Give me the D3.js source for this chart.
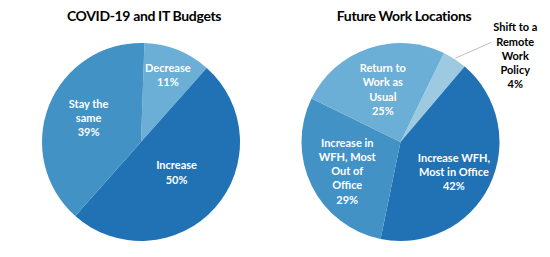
<!DOCTYPE html>
<html>
<head>
<meta charset="utf-8">
<script src="https://cdn.jsdelivr.net/npm/d3@7"></script>
<style>
  html, body { margin: 0; padding: 0; background: #fff; }
  svg { display: block; }
</style>
</head>
<body>
<svg id="chart" width="550" height="257"></svg>
<script>
// ---- Data ----
const budgetCategories = ["Decrease", "Increase", "Stay the same"];
const budgetLabels = [["Decrease", "11%"], ["Increase", "50%"], ["Stay the", "same", "39%"]];
const budgetValues = [11, 50, 39];

const workCategories = ["Shift to a Remote Work Policy", "Increase WFH, Most in Office", "Increase in WFH, Most Out of Office", "Return to Work as Usual"];
const workLabels = [["Shift to a", "Remote", "Work", "Policy", "4%"], ["Increase WFH,", "Most in Office", "42%"], ["Increase in", "WFH, Most", "Out of", "Office", "29%"], ["Return to", "Work as", "Usual", "25%"]];
const workValues = [4, 42, 29, 25];

const titles = ["COVID-19 and IT Budgets", "Future Work Locations"];

// ---- Layout / style ----
const svg = d3.select("#chart");
const deg = Math.PI / 180;
const fontFamily = "Lato, 'Open Sans', sans-serif";

const charts = [
  {
    title: titles[0], titleX: 144, cx: 141, cy: 142, r: 99, startDeg: 2,
    cats: budgetCategories, labels: budgetLabels, values: budgetValues,
    colors: ["#6baed6", "#2171b5", "#4292c6"],
    labelR: [0.73, 0.48, 0.57], labelShift: [0, -1, -3], outside: [false, false, false]
  },
  {
    title: titles[1], titleX: 404, cx: 400.5, cy: 142, r: 99, startDeg: 26,
    cats: workCategories, labels: workLabels, values: workValues,
    colors: ["#9ecae1", "#2171b5", "#4292c6", "#6baed6"],
    labelR: [1, 0.6, 0.6, 0.55], labelShift: [0, 4, 3, -1], outside: [true, false, false, false]
  }
];

const lineH = 14.2;

charts.forEach(c => {
  const g = svg.append("g");
  g.append("text")
    .attr("x", c.titleX).attr("y", 21)
    .attr("text-anchor", "middle")
    .attr("font-family", fontFamily)
    .attr("font-weight", "bold")
    .attr("font-size", 14)
    .attr("letter-spacing", -0.35)
    .attr("fill", "#000")
    .text(c.title);

  const pie = d3.pie().sort(null).value(d => d)
    .startAngle(c.startDeg * deg).endAngle(c.startDeg * deg + 2 * Math.PI);
  const arcs = pie(c.values);
  const arc = d3.arc().innerRadius(0).outerRadius(c.r);

  const pg = g.append("g").attr("transform", `translate(${c.cx},${c.cy})`);
  pg.selectAll("path").data(arcs).join("path")
    .attr("d", arc)
    .attr("fill", (d, i) => c.colors[i]);

  arcs.forEach((a, i) => {
    const mid = (a.startAngle + a.endAngle) / 2;
    const lines = c.labels[i];
    if (c.outside[i]) {
      const sx = Math.sin(mid) * (c.r + 1), sy = -Math.cos(mid) * (c.r + 1);
      const ex = sx + 36, ey = sy - 16;
      pg.append("line")
        .attr("x1", sx).attr("y1", sy).attr("x2", ex).attr("y2", ey)
        .attr("stroke", "#bfbfbf").attr("stroke-width", 1);
      const tx = ex + 24;
      const top = ey - 15;
      const t = pg.append("text")
        .attr("text-anchor", "middle")
        .attr("font-family", fontFamily)
        .attr("font-weight", "bold")
        .attr("font-size", 11)
        .attr("fill", "#000");
      lines.forEach((ln, k) => {
        t.append("tspan").attr("x", tx).attr("y", top + k * lineH + 4).text(ln);
      });
    } else {
      const lr = c.r * c.labelR[i];
      const lx = Math.sin(mid) * lr, ly = -Math.cos(mid) * lr + c.labelShift[i];
      const top = ly - (lines.length - 1) * lineH / 2;
      const t = pg.append("text")
        .attr("text-anchor", "middle")
        .attr("font-family", fontFamily)
        .attr("font-weight", "bold")
        .attr("font-size", 11)
        .attr("fill", "#fff");
      lines.forEach((ln, k) => {
        t.append("tspan").attr("x", lx).attr("y", top + k * lineH + 4).text(ln);
      });
    }
  });
});
</script>
</body>
</html>
